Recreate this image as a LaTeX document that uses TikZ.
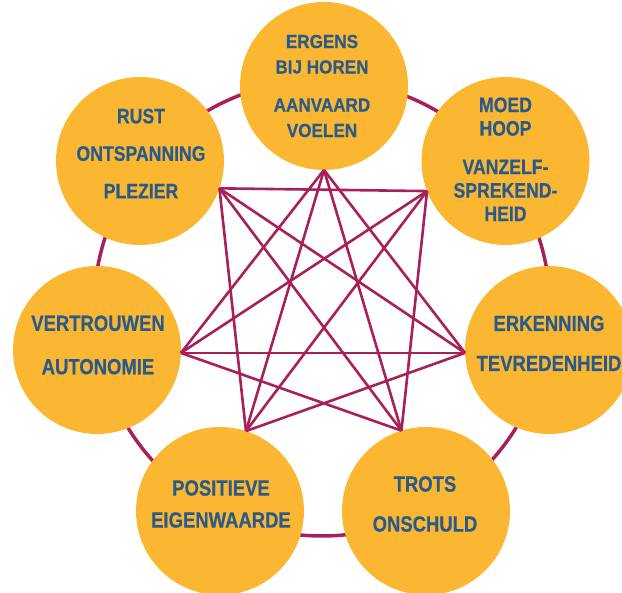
\documentclass[tikz,border=0pt]{standalone}
\usepackage{fontspec}
\newfontfamily\lblfont{Liberation Sans}[FakeStretch=0.84,FakeBold=0.4]
\newfontfamily\topfont{Liberation Sans}[FakeStretch=0.9,FakeBold=0.4]
\usetikzlibrary{positioning}
\definecolor{ringred}{RGB}{168,32,90}
\definecolor{disc}{RGB}{252,183,50}
\definecolor{lbl}{RGB}{40,90,140}
\begin{document}
\begin{tikzpicture}[x=1pt,y=1pt,
  bubble/.style={circle,fill=disc,minimum size=168pt,inner sep=0pt,outer sep=0pt},
  words/.style={align=center,text=lbl,inner sep=0pt,font=\lblfont\bfseries},
  link/.style={draw=ringred,line width=2.6pt}]
\useasboundingbox (0,0) rectangle (622,593);
\clip (0,0) rectangle (622,593);
\coordinate (mid) at (322,285);
\draw[ringred,line width=3.5pt] (mid) circle (228);
\node[bubble] (top) at (324,507) {};
\node[bubble] (ur) at (505.5,432) {};
\node[bubble] (rt) at (549,243) {};
\node[bubble] (lr) at (426,82) {};
\node[bubble] (ll) at (220,82) {};
\node[bubble] (lt) at (97,243) {};
\node[bubble] (ul) at (140,432) {};
\node[words,font=\topfont\bfseries\fontsize{19}{25.5}\selectfont] (t-top) at ([xshift=-2pt]top) {ERGENS\\BIJ HOREN\\[12.5pt]AANVAARD\\VOELEN};
\node[words,font=\lblfont\bfseries\fontsize{21}{23.5}\selectfont] (t-ur) at ([yshift=1.7pt]ur) {MOED\\HOOP\\[15pt]VANZELF-\\SPREKEND-\\HEID};
\node[words,font=\lblfont\bfseries\fontsize{22}{40}\selectfont] (t-rt) at ([yshift=6.7pt]rt) {ERKENNING\\TEVREDENHEID};
\node[words,font=\lblfont\bfseries\fontsize{22}{40}\selectfont] (t-lr) at ([xshift=-1pt,yshift=7pt]lr) {TROTS\\ONSCHULD};
\node[words,font=\lblfont\bfseries\fontsize{22}{32}\selectfont] (t-ll) at ([xshift=1pt,yshift=7pt]ll) {POSITIEVE\\EIGENWAARDE};
\node[words,font=\lblfont\bfseries\fontsize{22}{43.4}\selectfont] (t-lt) at ([xshift=1pt,yshift=5pt]lt) {VERTROUWEN\\AUTONOMIE};
\node[words,font=\lblfont\bfseries\fontsize{21}{37.5}\selectfont] (t-ul) at ([xshift=1pt,yshift=7.5pt]ul) {RUST\\ONTSPANNING\\PLEZIER};
\draw[link] (top.-90) -- (rt.182);
\draw[link] (top.-90) -- (lr.107);
\draw[link] (top.-90) -- (ll.72);
\draw[link] (top.-90) -- (lt.-2);
\draw[link] (ur.201.7) -- (lr.107);
\draw[link] (ur.201.7) -- (ll.72);
\draw[link] (ur.201.7) -- (lt.-2);
\draw[link] (ur.201.7) -- (ul.-19.5);
\draw[link] (rt.182) -- (ll.72);
\draw[link] (rt.182) -- (lt.-2);
\draw[link] (rt.182) -- (ul.-19.5);
\draw[link] (lr.107) -- (lt.-2);
\draw[link] (lr.107) -- (ul.-19.5);
\draw[link] (ll.72) -- (ul.-19.5);
\end{tikzpicture}
\end{document}
